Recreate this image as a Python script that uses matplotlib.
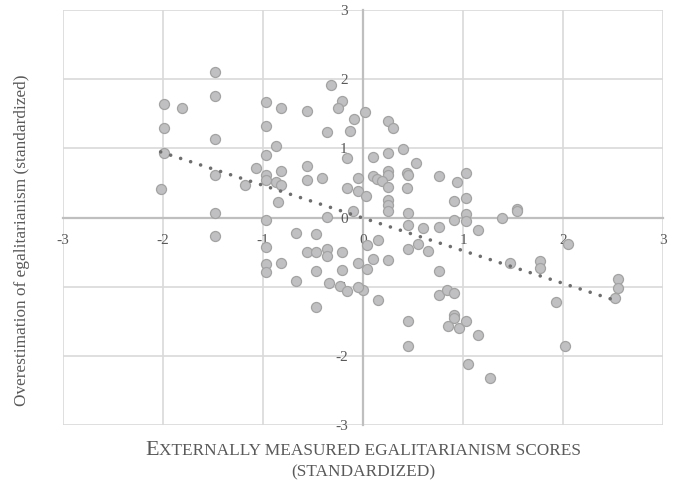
import numpy as np
import matplotlib
matplotlib.use("Agg")
import matplotlib.pyplot as plt
from matplotlib.offsetbox import TextArea, HPacker, VPacker, AnchoredOffsetbox

# ================= DATA =================
# externally measured egalitarianism (x) vs overestimation (y), both standardized
x_left = [-1.48, -1.48, -1.99, -1.81, -1.99, -1.48, -1.99, -1.48, -2.02, -1.18, -1.48, -1.48]
y_left = [2.10, 1.76, 1.64, 1.58, 1.29, 1.13, 0.93, 0.61, 0.41, 0.47, 0.07, -0.27]

x_mid_up = [-0.97, -0.82, -0.56, -0.32, -0.21, -0.25, 0.02, -0.09, -0.97, -0.36,
            -0.13, -0.87, -0.97, -0.16, -0.56, -1.07, -0.82, -0.97, -0.97, -0.87,
            -0.82, -0.56, -0.41, -0.05, -0.16, -0.05, 0.03, -0.85, -0.10, -0.36,
            -0.97]
y_mid_up = [1.67, 1.59, 1.54, 1.92, 1.68, 1.58, 1.52, 1.42, 1.32, 1.24,
            1.25, 1.03, 0.90, 0.86, 0.74, 0.72, 0.68, 0.62, 0.54, 0.51,
            0.47, 0.55, 0.58, 0.58, 0.43, 0.39, 0.31, 0.22, 0.10, 0.01,
            -0.04]

x_right_up = [0.25, 0.30, 0.40, 0.25, 0.10, 0.53, 0.25, 0.25, 0.10, 0.14,
              0.19, 0.44, 0.45, 0.76, 1.03, 0.94, 0.25, 0.44, 1.03, 0.91,
              0.25, 0.25, 0.25, 0.45, 1.03, 1.39, 1.54, 1.54, 0.91]
y_right_up = [1.39, 1.30, 0.99, 0.94, 0.88, 0.79, 0.68, 0.62, 0.60, 0.56,
              0.53, 0.65, 0.62, 0.60, 0.64, 0.52, 0.45, 0.43, 0.29, 0.24,
              0.26, 0.19, 0.10, 0.07, 0.05, 0.00, 0.13, 0.10, -0.04]

x_right_low = [1.03, 0.45, 0.60, 0.76, 1.15, 0.15, 0.04, 0.55, 0.45, 0.65,
               0.10, 0.25, 0.04, 0.76, 1.47, 1.77, 1.77, 2.05, 2.55, 2.55,
               2.52, 1.93, 0.00, 0.15, 0.76, 0.84, 0.91, 0.45, 0.45, 0.91,
               0.91, 0.85, 0.96, 1.03, 1.15, 2.02, 1.05, 1.27]
y_right_low = [-0.05, -0.11, -0.15, -0.14, -0.18, -0.33, -0.40, -0.38, -0.46, -0.48,
               -0.60, -0.61, -0.74, -0.77, -0.66, -0.63, -0.73, -0.38, -0.88, -1.02,
               -1.16, -1.22, -1.04, -1.19, -1.12, -1.04, -1.09, -1.50, -1.86, -1.41,
               -1.45, -1.56, -1.60, -1.49, -1.69, -1.85, -2.11, -2.32]

x_left_low = [-0.67, -0.47, -0.97, -0.56, -0.47, -0.36, -0.36, -0.21, -0.05, -0.97,
              -0.97, -0.82, -0.47, -0.21, -0.67, -0.34, -0.23, -0.16, -0.05, -0.47]
y_left_low = [-0.22, -0.24, -0.42, -0.50, -0.49, -0.45, -0.55, -0.50, -0.65, -0.67,
              -0.78, -0.66, -0.77, -0.75, -0.92, -0.95, -0.99, -1.06, -1.00, -1.29]

# linear trendline (end points)
trend_x = [-2.02, 2.55]
trend_y = [0.95, -1.21]

ticks = [-3, -2, -1, 0, 1, 2, 3]

x = np.array(x_left + x_mid_up + x_right_up + x_right_low + x_left_low)
y = np.array(y_left + y_mid_up + y_right_up + y_right_low + y_left_low)

# ================= PLOT =================
grey_txt = "#595959"
serif = ["Liberation Serif", "DejaVu Serif"]

fig = plt.figure(figsize=(6.75, 4.84), dpi=100)
ax = fig.add_axes([0.0926, 0.1213, 0.8901, 0.858])

ax.set_xlim(-3, 3)
ax.set_ylim(-3, 3)
ax.set_xticks(ticks)
ax.set_yticks(ticks)
ax.set_xticklabels([str(t) for t in ticks])
ax.set_yticklabels([str(t) for t in ticks])

for t in ticks:
    if t != 0:
        ax.axvline(t, color="#d9d9d9", lw=1.2, zorder=0)
        ax.axhline(t, color="#d9d9d9", lw=1.2, zorder=0)

for side in ["top", "right"]:
    ax.spines[side].set_visible(False)
for side in ["left", "bottom"]:
    ax.spines[side].set_position(("data", 0))
    ax.spines[side].set_color("#bfbfbf")
    ax.spines[side].set_linewidth(1.6)
    ax.spines[side].set_zorder(0.5)

ax.tick_params(length=0, labelsize=11, labelcolor=grey_txt)
ax.tick_params(axis="x", pad=12)
ax.tick_params(axis="y", pad=11)
for lab in ax.get_xticklabels() + ax.get_yticklabels():
    lab.set_fontfamily(serif)

ax.scatter(x, y, s=52, facecolor="#c0c0c2", edgecolor="#a3a3a3",
           linewidth=0.9, zorder=3)
ax.plot(trend_x, trend_y, color="#6e6e6e", lw=2.6, linestyle=(0, (0.01, 2.9)),
        dash_capstyle="round", zorder=4)

# y label
fig.text(0.032, 0.504, "Overestimation of egalitarianism (standardized)",
         rotation=90, ha="center", va="center", fontsize=12.4,
         color=grey_txt, family=serif)

# x label in small caps
big = dict(fontsize=16, color=grey_txt, family=serif)
small = dict(fontsize=12.4, color=grey_txt, family=serif)
line1 = HPacker(children=[TextArea("E", textprops=big),
                          TextArea("XTERNALLY MEASURED EGALITARIANISM SCORES", textprops=small)],
                align="baseline", pad=0, sep=0)
line2 = TextArea("(STANDARDIZED)", textprops=small)
label = VPacker(children=[line1, line2], align="center", pad=0, sep=3)
box = AnchoredOffsetbox(loc="upper center", child=label, frameon=False,
                        bbox_to_anchor=(0.5385, 0.088), bbox_transform=fig.transFigure,
                        borderpad=0, pad=0)
fig.add_artist(box)

fig.savefig("out.png", dpi=100)
